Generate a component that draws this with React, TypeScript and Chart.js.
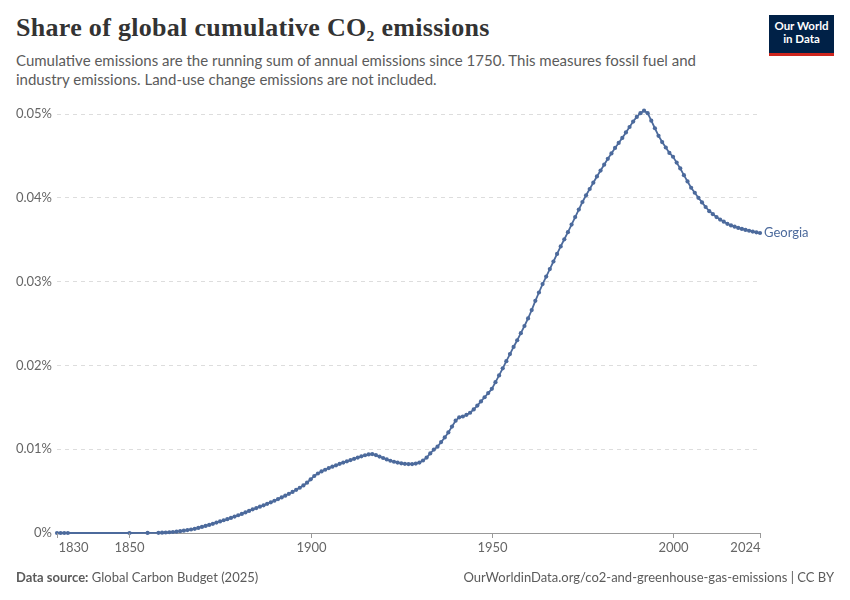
import { useEffect, useRef } from 'react';
import { Chart, Plugin, registerables } from 'chart.js';

Chart.register(...registerables);

// sparse early records, then one value per year from 1858
const earlyYears = [1830, 1831, 1832, 1833, 1850, 1855];
const earlyShare = [0, 0, 0, 0, 0, 0.00001];

const firstAnnualYear = 1858;
const annualShare = [
  0.00002, 0.00004, // 1858-1859
  0.00006, 0.00009, 0.00012, 0.00016, 0.00022, 0.00028, 0.00035, 0.00042, 0.0005, 0.0006, // 1860s
  0.00072, 0.00084, 0.00096, 0.0011, 0.00124, 0.00138, 0.00152, 0.00165, 0.0018, 0.00196, // 1870s
  0.00212, 0.00228, 0.00246, 0.00264, 0.00282, 0.00298, 0.00314, 0.0033, 0.00348, 0.00366, // 1880s
  0.00385, 0.00405, 0.00425, 0.00446, 0.00468, 0.0049, 0.00515, 0.0054, 0.00568, 0.006, // 1890s
  0.0064, 0.0068, 0.0071, 0.00735, 0.00755, 0.00775, 0.00792, 0.00808, 0.00825, 0.0084, // 1900s
  0.00855, 0.0087, 0.00885, 0.009, 0.00915, 0.00928, 0.00938, 0.00942, 0.0093, 0.00912, // 1910s
  0.00895, 0.00878, 0.00862, 0.0085, 0.0084, 0.00832, 0.00826, 0.00823, 0.00823, 0.00828, // 1920s
  0.0084, 0.00865, 0.009, 0.0095, 0.00995, 0.0103, 0.01085, 0.0114, 0.012, 0.0127, // 1930s
  0.0134, 0.0138, 0.0139, 0.0141, 0.01435, 0.01475, 0.0152, 0.0157, 0.0162, 0.0167, // 1940s
  0.0172, 0.018, 0.0188, 0.01965, 0.0205, 0.02135, 0.0222, 0.023, 0.02385, 0.0247, // 1950s
  0.0256, 0.0266, 0.0277, 0.0287, 0.0297, 0.0306, 0.0315, 0.0324, 0.0333, 0.0342, // 1960s
  0.03505, 0.0359, 0.0368, 0.0377, 0.0386, 0.0395, 0.0403, 0.04105, 0.0418, 0.04255, // 1970s
  0.04325, 0.04395, 0.04465, 0.0453, 0.04595, 0.04655, 0.04715, 0.0478, 0.04845, 0.0491, // 1980s
  0.04965, 0.0501, 0.0504, 0.0501, 0.0492, 0.0483, 0.0474, 0.04665, 0.046, 0.04535, // 1990s
  0.0449, 0.0442, 0.0435, 0.0427, 0.04195, 0.0412, 0.0406, 0.04, 0.03945, 0.0389, // 2000s
  0.0384, 0.03805, 0.0377, 0.0374, 0.03715, 0.0369, 0.0367, 0.03655, 0.0364, 0.03628, // 2010s
  0.03617, 0.03607, 0.03597, 0.03588, 0.0358, // 2020-2024
];

const xTicks = [1830, 1850, 1900, 1950, 2000, 2024];
const yTicks = [0, 0.01, 0.02, 0.03, 0.04, 0.05];
const seriesName = 'Georgia';

const lineColor = '#4c6a9c';
const labelColor = '#666';
const font = 'Lato, "Noto Sans", sans-serif';

const fmtPct = (v: number) => (v === 0 ? '0%' : `${v.toFixed(2)}%`);

const labelsPlugin: Plugin<'line'> = {
  id: 'owidLabels',
  afterDraw(chart) {
    const { ctx, chartArea } = chart;
    const x = chart.scales.x;
    const y = chart.scales.y;
    ctx.save();
    ctx.font = `13px ${font}`;
    ctx.fillStyle = labelColor;

    // y labels, right aligned left of the plot
    ctx.textAlign = 'right';
    ctx.textBaseline = 'middle';
    yTicks.forEach(v => ctx.fillText(fmtPct(v), chartArea.left - 5, y.getPixelForValue(v)));

    // x tick marks and labels
    ctx.textBaseline = 'top';
    ctx.strokeStyle = '#999';
    ctx.lineWidth = 1;
    xTicks.forEach((v, i) => {
      const px = Math.round(x.getPixelForValue(v)) + 0.5;
      ctx.beginPath();
      ctx.moveTo(px, chartArea.bottom);
      ctx.lineTo(px, chartArea.bottom + 5);
      ctx.stroke();
      ctx.textAlign = i === 0 ? 'left' : i === xTicks.length - 1 ? 'right' : 'center';
      ctx.fillText(String(v), i === 0 ? px + 1 : px, chartArea.bottom + 8);
    });

    // series label at line end
    const meta = chart.getDatasetMeta(0);
    const last = meta.data[meta.data.length - 1];
    ctx.fillStyle = lineColor;
    ctx.textAlign = 'left';
    ctx.textBaseline = 'middle';
    ctx.fillText(seriesName, last.x + 4, last.y);
    ctx.restore();
  },
};

function ShareChart() {
  const canvasRef = useRef<HTMLCanvasElement>(null);

  useEffect(() => {
    if (!canvasRef.current) return;
    const points = [
      ...earlyYears.map((yr, i) => ({ x: yr, y: earlyShare[i] })),
      ...annualShare.map((v, i) => ({ x: firstAnnualYear + i, y: v })),
    ];

    const chart = new Chart(canvasRef.current, {
      type: 'line',
      data: {
        datasets: [
          {
            label: seriesName,
            data: points,
            borderColor: lineColor,
            backgroundColor: lineColor,
            borderWidth: 1.8,
            pointRadius: 2.1,
            pointBorderWidth: 0,
            pointBackgroundColor: lineColor,
            tension: 0,
            clip: false as any,
          },
        ],
      },
      options: {
        animation: false,
        responsive: true,
        maintainAspectRatio: false,
        layout: { padding: { left: 57, right: 90, top: 114, bottom: 67 } },
        plugins: { legend: { display: false }, tooltip: { enabled: false } },
        scales: {
          x: {
            type: 'linear',
            min: 1830,
            max: 2024,
            ticks: { display: false },
            grid: { display: false, drawTicks: false },
            border: { display: true, color: '#999', width: 1 },
          },
          y: {
            min: 0,
            max: 0.05,
            afterBuildTicks: scale => {
              scale.ticks = yTicks.map(v => ({ value: v }));
            },
            ticks: { display: false },
            grid: {
              drawTicks: false,
              color: c => (c.tick && c.tick.value === 0 ? 'rgba(0,0,0,0)' : '#dddddd'),
            },
            border: { display: false, dash: [4, 4] },
          },
        },
      },
      plugins: [labelsPlugin],
    });

    return () => chart.destroy();
  }, []);

  return <canvas ref={canvasRef} />;
}

export default function App() {
  return (
    <div
      style={{
        position: 'fixed',
        left: 0,
        top: 0,
        width: 850,
        height: 600,
        background: '#fff',
        fontFamily: font,
        overflow: 'hidden',
      }}
    >
      <div
        style={{
          position: 'absolute',
          left: 16,
          top: 13,
          fontFamily: '"Liberation Serif", "DejaVu Serif", serif',
          fontWeight: 700,
          fontSize: 26,
          letterSpacing: 0.3,
          color: '#333',
          whiteSpace: 'nowrap',
        }}
      >
        Share of global cumulative CO₂ emissions
      </div>
      <div
        style={{
          position: 'absolute',
          left: 16,
          top: 51,
          width: 700,
          fontSize: 15,
          lineHeight: '19px',
          color: '#5b5b5b',
        }}
      >
        Cumulative emissions are the running sum of annual emissions since 1750. This measures fossil fuel and
        industry emissions. Land-use change emissions are not included.
      </div>
      <div
        style={{
          position: 'absolute',
          left: 769,
          top: 15,
          width: 65,
          height: 34,
          background: '#002147',
          borderBottom: '3px solid #ce261e',
          color: '#fff',
          fontWeight: 700,
          fontSize: 11.5,
          lineHeight: '13px',
          textAlign: 'center',
          paddingTop: 4,
          boxSizing: 'content-box',
        }}
      >
        Our World
        <br />
        in Data
      </div>
      <div style={{ position: 'absolute', left: 0, top: 0, width: 850, height: 600 }}>
        <ShareChart />
      </div>
      <div
        style={{
          position: 'absolute',
          left: 16,
          top: 569,
          fontSize: 13,
          color: '#5b5b5b',
          whiteSpace: 'nowrap',
        }}
      >
        <b>Data source:</b> Global Carbon Budget (2025)
      </div>
      <div
        style={{
          position: 'absolute',
          right: 16,
          top: 569,
          fontSize: 13,
          color: '#5b5b5b',
          whiteSpace: 'nowrap',
        }}
      >
        OurWorldinData.org/co2-and-greenhouse-gas-emissions | CC BY
      </div>
    </div>
  );
}
